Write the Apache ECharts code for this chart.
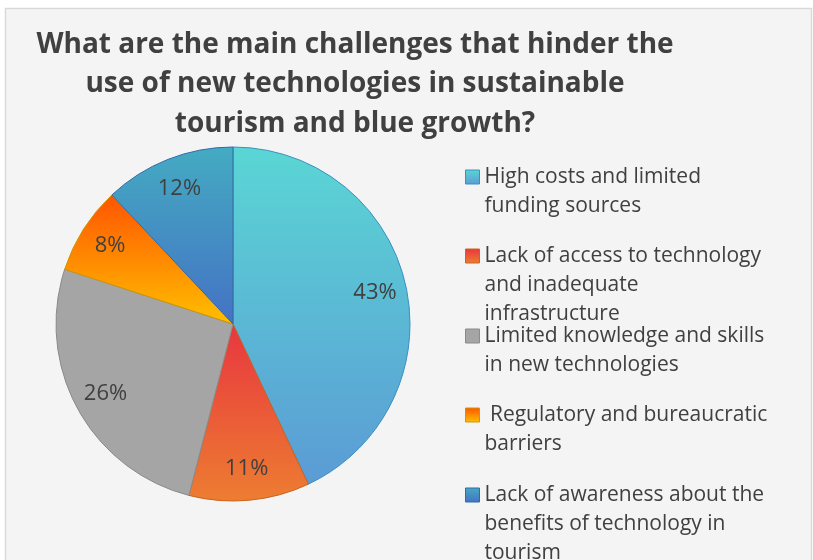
<!DOCTYPE html>
<html>
<head>
<meta charset="utf-8">
<script src="https://cdn.jsdelivr.net/npm/echarts@6/dist/echarts.min.js"></script>
<style>
  html, body { margin: 0; padding: 0; background: #ffffff; }
  #chart { width: 813px; height: 560px; }
</style>
</head>
<body>
<div id="chart"></div>
<script>
// Survey answers: share of respondents per challenge (percent)
const categories = [
  'High costs and limited funding sources',
  'Lack of access to technology and inadequate infrastructure',
  'Limited knowledge and skills in new technologies',
  'Regulatory and bureaucratic barriers',
  'Lack of awareness about the benefits of technology in tourism'
];
const shares = [43, 11, 26, 8, 12];

// Wrapped legend captions
const legendLines = [
  ['High costs and limited', 'funding sources'],
  ['Lack of access to technology', 'and inadequate', 'infrastructure'],
  ['Limited knowledge and skills', 'in new technologies'],
  [' Regulatory and bureaucratic', 'barriers'],
  ['Lack of awareness about the', 'benefits of technology in', 'tourism']
];

// Slice fills: vertical gradient top -> bottom, plus edge colour
const sliceTop    = ['#5ad6d4', '#e8363f', '#a5a5a5', '#ff5400', '#44abc2'];
const sliceBottom = ['#5b9bd5', '#ed7d31', '#a5a5a5', '#ffc000', '#4472c4'];
const sliceEdge   = ['#3a8fc4', '#c9641f', '#8a8a8a', '#d29500', '#3468a8'];

const TEXT = '#404040';
const FONT = '"Open Sans", "Noto Sans", sans-serif';
const LINE = 29;

function grad(i) {
  return new echarts.graphic.LinearGradient(0, 0, 0, 1, [
    { offset: 0, color: sliceTop[i] },
    { offset: 1, color: sliceBottom[i] }
  ]);
}

const pieData = categories.map((name, i) => ({
  name: name,
  value: shares[i],
  itemStyle: { color: grad(i), borderColor: sliceEdge[i], borderWidth: 1 }
}));

const labelData = categories.map((name, i) => ({ name: name, value: shares[i] }));

// One legend block per entry. Blank lines are prepended so that the
// vertically centred swatch sits beside the first caption line.
const legendTops = [177, 256, 336, 415, 495];
const legends = categories.map((name, i) => {
  const n = legendLines[i].length;
  const lines = new Array(n - 1).fill(' ').concat(legendLines[i]);
  return {
    data: [{ name: name, icon: 'rect' }],
    orient: 'vertical',
    left: 465,
    top: legendTops[i] - (lines.length * LINE) / 2,
    padding: 0,
    itemWidth: 14,
    itemHeight: 14,
    itemStyle: { borderWidth: 1 },
    selectedMode: false,
    formatter: () => lines.join('\n'),
    textStyle: {
      color: TEXT,
      fontFamily: FONT,
      fontSize: 21,
      lineHeight: LINE
    }
  };
});

const chart = echarts.init(document.getElementById('chart'), null, { renderer: 'canvas' });
chart.setOption({
  animation: false,
  backgroundColor: '#ffffff',
  graphic: [{
    type: 'rect',
    z: -10,
    shape: { x: 5.5, y: 8.5, width: 806, height: 600 },
    style: { fill: '#f4f4f4', stroke: '#d9d9d9', lineWidth: 1.5 },
    silent: true
  }],
  title: {
    text: 'What are the main challenges that hinder the\nuse of new technologies in sustainable\ntourism and blue growth?',
    left: 355,
    top: 25,
    padding: 0,
    textAlign: 'center',
    textStyle: {
      color: TEXT,
      fontFamily: FONT,
      fontWeight: 'bold',
      fontSize: 28,
      lineHeight: 39.5
    }
  },
  legend: legends,
  series: [
    {
      type: 'pie',
      center: [233, 324],
      radius: [0, 177],
      startAngle: 90,
      clockwise: true,
      silent: true,
      label: { show: false },
      labelLine: { show: false },
      data: pieData
    },
    {
      // transparent ring used only to place the percentage labels
      type: 'pie',
      center: [233, 324],
      radius: [108, 177],
      startAngle: 90,
      clockwise: true,
      silent: true,
      itemStyle: { color: 'rgba(0,0,0,0)', borderWidth: 0 },
      label: {
        show: true,
        position: 'inside',
        formatter: '{c}%',
        color: TEXT,
        fontFamily: FONT,
        fontSize: 22
      },
      labelLine: { show: false },
      data: labelData
    }
  ]
});
</script>
</body>
</html>
